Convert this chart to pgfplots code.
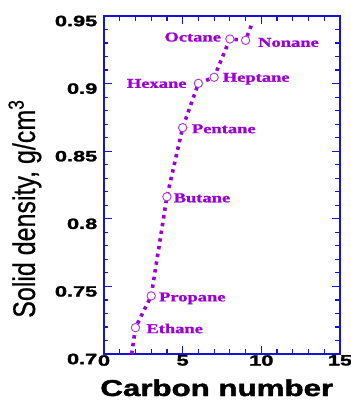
\documentclass[border=0pt]{standalone}
\usepackage{pgfplots}
\pgfplotsset{compat=1.18}
\usepackage{fontspec}
\setmainfont{Liberation Sans}[BoldFeatures={FakeBold=1.5}]
\newfontfamily\serifb{Liberation Serif}[BoldFeatures={FakeBold=1}]
\newfontfamily\medsans{Liberation Sans}[FakeBold=0.6]
\definecolor{pur}{RGB}{155,0,215}
\definecolor{frameblue}{RGB}{20,20,210}
\tikzset{lab/.style={font=\serifb\bfseries\fontsize{13.5}{13.5}\selectfont, text=pur, inner sep=0pt, xscale=1.37}}
\begin{document}
\begin{tikzpicture}
\path[use as bounding box] (-104pt,-46pt) rectangle (247pt,354pt);
\begin{axis}[
  scale only axis, width=236pt, height=338pt,
  at={(0,0)}, anchor=south west,
  xmin=0, xmax=15, ymin=0.7, ymax=0.95,
  xtick={0,5,10,15}, xticklabels={0,5,10,15},
  ytick={0.7,0.75,0.8,0.85,0.9,0.95},
  yticklabels={0.7,0.75,0.8,0.85,0.9,0.95},
  minor x tick num=4, minor y tick num=4,
  axis line style={frameblue, line width=1.6pt},
  tick style={frameblue, line width=1.2pt},
  major tick length=8pt, minor tick length=4.5pt,
  tick align=inside,
  /pgf/number format/assume math mode=true,
  ticklabel style={font=\bfseries\fontsize{15}{15}\selectfont, inner sep=1pt},
  xticklabel style={xscale=1.45},
  yticklabel style={xshift=-5pt, yshift=-5pt, xscale=1.45},
  xlabel={Carbon number},
  xlabel style={at={(axis description cs:0.478,-0.10)}, anchor=center,
    font=\bfseries\fontsize{23}{23}\selectfont, xscale=1.36},
  ylabel={Solid density, g/cm\textsuperscript{3}},
  ylabel style={at={(axis description cs:-0.335,0.43)}, anchor=center,
    font=\medsans\fontsize{25}{25}\selectfont, yscale=1.25},
  clip=true,
]
\addplot[pur, line width=3.6pt, dash pattern=on 3.4pt off 4.4pt, mark=none] coordinates {
  (1.76,0.700) (2,0.7195) (3,0.743) (4,0.8163) (5,0.8674) (6,0.9002) (7,0.9047) (8,0.933) (9,0.932) (9.39,0.944)
};
\addplot[only marks, mark=*, mark size=4.2pt, mark options={fill=white, draw=pur!80, line width=0.9pt, solid}] coordinates {
  (2,0.7195) (3,0.743) (4,0.8163) (5,0.8674) (6,0.9002) (7,0.9047) (8,0.933) (9,0.932)
};
\node[xshift=-8.6pt, yshift=-2.5pt, lab, anchor=base east] at (axis cs:8,0.933) {Octane};
\node[xshift=12.3pt, yshift=-6.5pt, lab, anchor=base west] at (axis cs:9,0.932) {Nonane};
\node[xshift=8.4pt, yshift=-4.5pt, lab, anchor=base west] at (axis cs:7,0.9047) {Heptane};
\node[xshift=-11.6pt, yshift=-4.5pt, lab, anchor=base east] at (axis cs:6,0.9002) {Hexane};
\node[xshift=9pt, yshift=-5.5pt, lab, anchor=base west] at (axis cs:5,0.8674) {Pentane};
\node[xshift=6.5pt, yshift=-5.5pt, lab, anchor=base west] at (axis cs:4,0.8163) {Butane};
\node[xshift=7.6pt, yshift=-5.5pt, lab, anchor=base west] at (axis cs:3,0.743) {Propane};
\node[xshift=10.7pt, yshift=-5.5pt, lab, anchor=base west] at (axis cs:2,0.7195) {Ethane};
\end{axis}
\end{tikzpicture}
\end{document}
